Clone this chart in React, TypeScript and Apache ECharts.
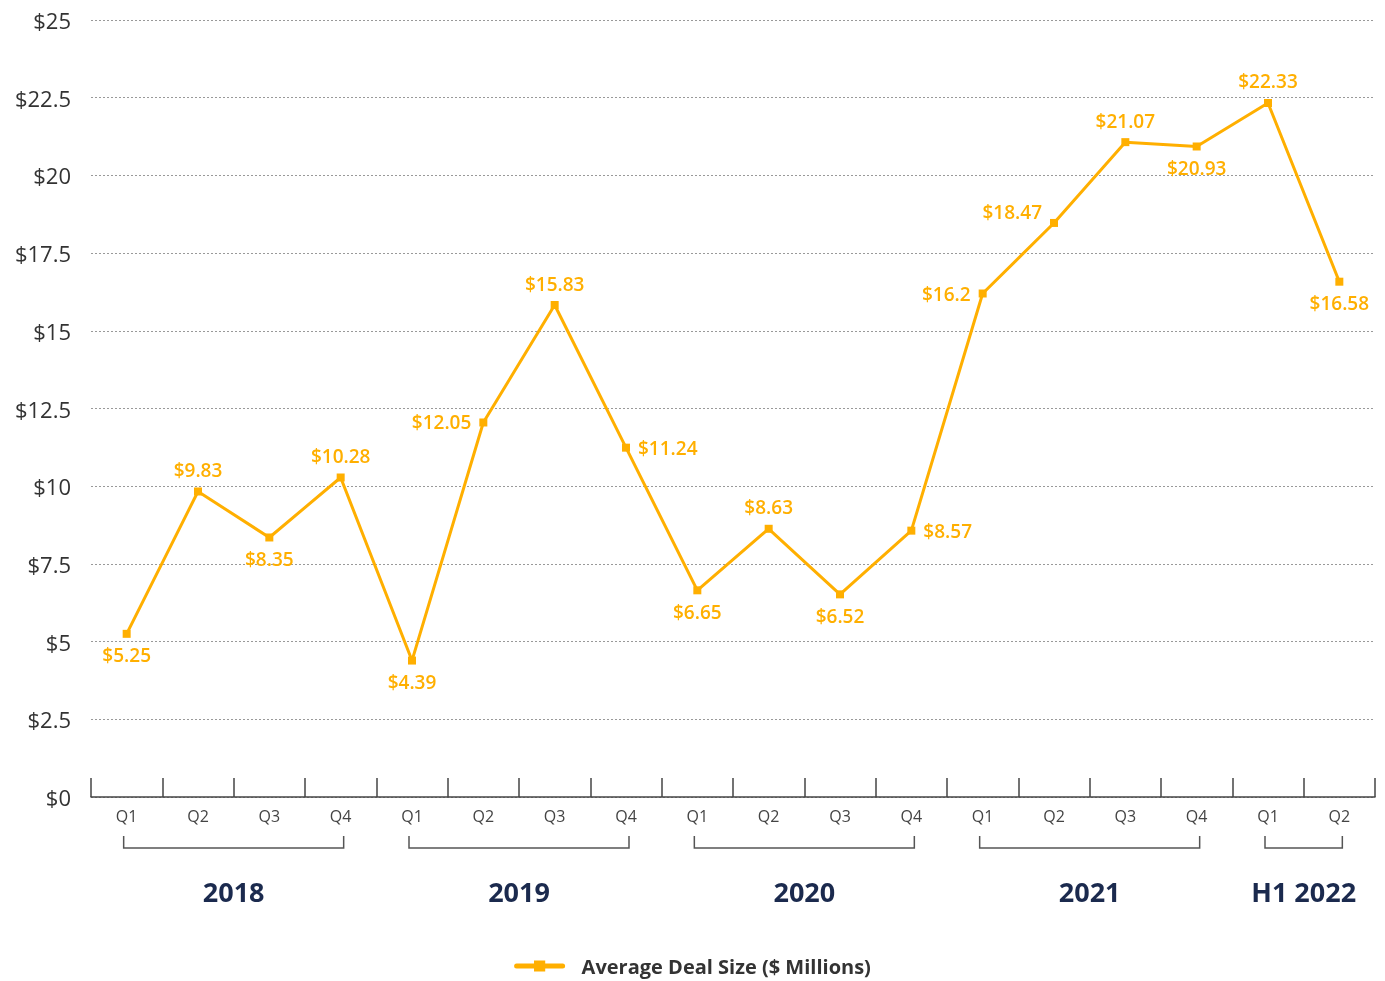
import React, { useEffect, useRef } from "react";
import * as echarts from "echarts";

const categories = [
  "2018 Q1", "2018 Q2", "2018 Q3", "2018 Q4",
  "2019 Q1", "2019 Q2", "2019 Q3", "2019 Q4",
  "2020 Q1", "2020 Q2", "2020 Q3", "2020 Q4",
  "2021 Q1", "2021 Q2", "2021 Q3", "2021 Q4",
  "2022 Q1", "2022 Q2",
];
const quarterLabels = [
  "Q1", "Q2", "Q3", "Q4", "Q1", "Q2", "Q3", "Q4", "Q1", "Q2", "Q3", "Q4",
  "Q1", "Q2", "Q3", "Q4", "Q1", "Q2",
];
const dealSize = [
  5.25, 9.83, 8.35, 10.28, 4.39, 12.05, 15.83, 11.24, 6.65, 8.63, 6.52, 8.57,
  16.2, 18.47, 21.07, 20.93, 22.33, 16.58,
];
const labelPositions = [
  "bottom", "top", "bottom", "top", "bottom", "left", "top", "right", "bottom",
  "top", "bottom", "right", "left", "leftUp", "top", "bottom", "top", "bottom",
];
const yearGroups = [
  { name: "2018", start: 0, end: 3 },
  { name: "2019", start: 4, end: 7 },
  { name: "2020", start: 8, end: 11 },
  { name: "2021", start: 12, end: 15 },
  { name: "H1 2022", start: 16, end: 17 },
];
const seriesName = "Average Deal Size ($ Millions)";

const ORANGE = "#FFAF00";
const FONT = "'Open Sans', Lato, sans-serif";

export default function App() {
  const ref = useRef<HTMLDivElement>(null);

  useEffect(() => {
    if (!ref.current) return;
    const chart = echarts.init(ref.current, null, { renderer: "svg" });

    const data = dealSize.map((v, i) => {
      const p = labelPositions[i];
      let label: any = { position: p };
      if (p === "leftUp") label = { position: "left", offset: [0, -11] };
      return { value: v, label };
    });

    chart.setOption({
      animation: false,
      textStyle: { fontFamily: FONT },
      grid: { left: 91, right: 10, top: 20, bottom: 184, containLabel: false },
      xAxis: {
        type: "category",
        data: categories,
        boundaryGap: true,
        axisLine: { lineStyle: { color: "#444", width: 1.5 } },
        axisTick: {
          show: true,
          inside: true,
          length: 19,
          alignWithLabel: false,
          lineStyle: { color: "#444", width: 1.5 },
        },
        axisLabel: {
          margin: 11,
          fontSize: 16,
          color: "#444",
          fontFamily: FONT,
          interval: 0,
          formatter: (_v: string, idx: number) => quarterLabels[idx],
        },
        splitLine: { show: false },
      },
      yAxis: {
        type: "value",
        min: 0,
        max: 25,
        interval: 2.5,
        axisLine: { show: false },
        axisTick: { show: false },
        axisLabel: {
          margin: 20,
          fontSize: 22,
          color: "#333",
          fontFamily: FONT,
          formatter: (v: number) => "$" + v,
        },
        splitLine: {
          lineStyle: { color: "#999", type: [2, 2], width: 1 },
        },
      },
      legend: {
        top: 955,
        left: "center",
        padding: 0,
        itemWidth: 46,
        itemHeight: 14,
        itemGap: 20,
        lineStyle: { width: 5, cap: "round" },
        textStyle: {
          fontSize: 20,
          lineHeight: 22,
          fontWeight: "bold",
          color: "#333",
          fontFamily: FONT,
          padding: [0, 0, 0, 14],
        },
        data: [seriesName],
      },
      series: [
        {
          name: seriesName,
          type: "line",
          data,
          symbol: "rect",
          symbolSize: 8,
          lineStyle: { color: ORANGE, width: 3 },
          itemStyle: { color: ORANGE },
          label: {
            show: true,
            distance: 8,
            fontSize: 19,
            fontWeight: 600,
            color: ORANGE,
            fontFamily: FONT,
            formatter: (p: any) => "$" + p.value,
          },
        },
      ],
    });

    const graphics: any[] = [];
    const yTop = 836;
    const yLine = 848;
    yearGroups.forEach((g) => {
      const x1 = chart.convertToPixel({ xAxisIndex: 0 }, g.start) as number;
      const x2 = chart.convertToPixel({ xAxisIndex: 0 }, g.end) as number;
      graphics.push({
        type: "polyline",
        shape: { points: [[x1 - 3, yTop], [x1 - 3, yLine], [x2 + 3, yLine], [x2 + 3, yTop]] },
        style: { stroke: "#555", lineWidth: 1.5, fill: null },
        silent: true,
      });
      graphics.push({
        type: "text",
        x: (x1 + x2) / 2,
        y: 891,
        style: {
          text: g.name,
          fontSize: 27,
          fontWeight: "bold",
          fill: "#1B2A4E",
          fontFamily: FONT,
          align: "center",
          verticalAlign: "middle",
        },
        silent: true,
      });
    });
    chart.setOption({ graphic: graphics });

    const onResize = () => chart.resize();
    window.addEventListener("resize", onResize);
    return () => {
      window.removeEventListener("resize", onResize);
      chart.dispose();
    };
  }, []);

  return (
    <div
      ref={ref}
      style={{ position: "fixed", left: 0, top: 0, width: "100vw", height: "100vh" }}
    />
  );
}
